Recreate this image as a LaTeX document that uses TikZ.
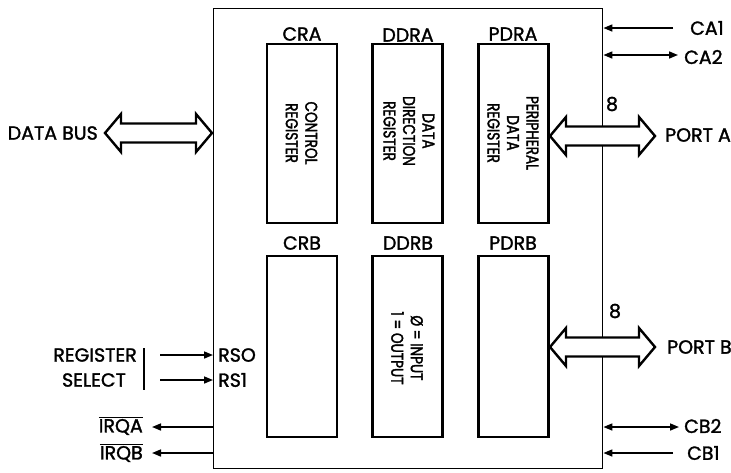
\documentclass[tikz,border=0pt]{standalone}
\usepackage{fontspec}
\setmainfont{Poppins}[FakeBold=1.5]
\newfontfamily\condfont{Poppins}[FakeStretch=0.8,FakeBold=2]
\usetikzlibrary{arrows.meta}
\newcommand\busarrow[3]{%
  \draw[bus] (#1,#3) -- ({#1+16},{#3-19}) -- ({#1+16},{#3-9.5}) -- ({#2-16},{#3-9.5})
    -- ({#2-16},{#3-19}) -- (#2,#3) -- ({#2-16},{#3+19}) -- ({#2-16},{#3+9.5})
    -- ({#1+16},{#3+9.5}) -- ({#1+16},{#3+19}) -- cycle;}
\begin{document}
\begin{tikzpicture}[x=1pt,y=-1pt,
  lab/.style={font=\fontsize{19}{22}\selectfont, inner sep=0pt},
  reg/.style={draw, line width=2.6pt, minimum width=70pt, inner sep=0pt},
  regtxt/.style={font=\condfont\fontsize{17}{19.5}\selectfont, rotate=-90, align=center, inner sep=0pt},
  sig/.style={line width=1.6pt, -{Triangle[length=9pt,width=7pt]}},
  sigb/.style={line width=1.6pt, {Triangle[length=9pt,width=7pt]}-{Triangle[length=9pt,width=7pt]}},
  bus/.style={draw, line width=2.4pt, fill=white, line join=miter},
]
\useasboundingbox (0,0) rectangle (731,472);
% chip outline
\node[draw, line width=1.4pt, minimum width=389pt, minimum height=460pt, inner sep=0pt, anchor=north west] (chip) at (213,8) {};
% registers
\node[reg, minimum height=179pt] (cra) at (302,133.5) {};
\node[reg, minimum height=179pt] (ddra) at (407.5,133.5) {};
\node[reg, minimum height=179pt] (pdra) at (513.5,133.5) {};
\node[reg, minimum height=181pt] (crb) at (302,346.5) {};
\node[reg, minimum height=181pt] (ddrb) at (407.5,346.5) {};
\node[reg, minimum height=181pt] (pdrb) at (513.5,346.5) {};
\node[lab] (cral) at (302,34) {CRA};
\node[lab] (ddral) at (408,35) {DDRA};
\node[lab] (pdral) at (513,34) {PDRA};
\node[lab] (crbl) at (302,243) {CRB};
\node[lab] (ddrbl) at (408,243) {DDRB};
\node[lab] (pdrbl) at (513,243) {PDRB};
\node[regtxt] (crat) at (301.5,133) {CONTROL\\REGISTER};
\node[regtxt] (ddrat) at (409,131) {DATA\\DIRECTION\\REGISTER};
\node[regtxt] (pdrat) at (513,133) {PERIPHERAL\\DATA\\REGISTER};
\node[regtxt] (ddrbt) at (407,348) {Ø = INPUT\\1 = OUTPUT};
% buses
\busarrow{105}{212}{133}
\busarrow{550}{655}{136}
\busarrow{550}{655}{347}
\node[lab, anchor=east] (db) at (98,133) {DATA BUS};
\node[lab, anchor=west] (pa) at (665,135) {PORT A};
\node[lab, anchor=west] (pb) at (667,347) {PORT B};
\node[lab] (na) at (612,104) {8};
\node[lab] (nb) at (615,311) {8};
% right signals
\node[lab, anchor=west] (ca1) at (690,28) {CA1};
\node[lab, anchor=west] (ca2) at (684,57) {CA2};
\node[lab, anchor=west] (cb2) at (684,426) {CB2};
\node[lab, anchor=west] (cb1) at (687,453) {CB1};
\coordinate (ca1s) at (673,28);
\coordinate (ca2s) at (678,55);
\coordinate (cb2s) at (679,427);
\coordinate (cb1s) at (673,453);
\draw[sig] (ca1s) -- (chip.east |- ca1s);
\draw[sigb] (chip.east |- ca2s) -- (ca2s);
\draw[sigb] (chip.east |- cb2s) -- (cb2s);
\draw[sig] (cb1s) -- (chip.east |- cb1s);
% left signals
\node[lab, anchor=east] (regl) at (137,355) {REGISTER};
\node[lab] (sell) at (94,380) {SELECT};
\draw[line width=1.2pt] (144,348) -- (144,390);
\node[lab, anchor=west] (rs0) at (218,355) {RSO};
\node[lab, anchor=west] (rs1) at (218,380) {RS1};
\node[lab, anchor=east] (irqa) at (143,426) {$\overline{\mbox{IRQA}}$};
\node[lab, anchor=east] (irqb) at (143,453) {$\overline{\mbox{IRQB}}$};
\coordinate (rs0s) at (160,355);
\coordinate (rs1s) at (160,380);
\coordinate (irqae) at (152,427);
\coordinate (irqbe) at (152,453);
\draw[sig] (rs0s) -- (chip.west |- rs0s);
\draw[sig] (rs1s) -- (chip.west |- rs1s);
\draw[sig] (chip.west |- irqae) -- (irqae);
\draw[sig] (chip.west |- irqbe) -- (irqbe);
\end{tikzpicture}
\end{document}
